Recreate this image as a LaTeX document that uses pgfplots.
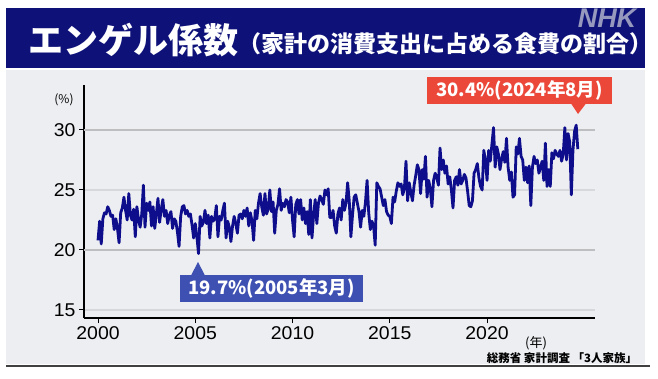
\documentclass[border=0pt]{standalone}
\usepackage{pgfplots}
\usepackage{pgfplotstable}
\pgfplotsset{compat=1.18}
\usepackage{fontspec}
\setmainfont{Liberation Sans}
\newfontfamily\jp{Noto Sans CJK JP}
\newfontfamily\numf[FakeStretch=1.05]{Liberation Sans}
\definecolor{banner}{RGB}{14,18,120}
\definecolor{panel}{RGB}{237,238,242}
\definecolor{linec}{RGB}{14,14,140}
\definecolor{redbox}{RGB}{235,72,58}
\definecolor{bluebox}{RGB}{62,80,178}
\definecolor{gridd}{RGB}{190,190,192}
\definecolor{gridl}{RGB}{215,216,219}
\definecolor{logoc}{RGB}{150,152,190}
\pgfplotstableread{
v
20.8
22.4
20.5
22.6
23.1
23.0
23.6
23.3
22.8
22.9
21.7
22.6
21.8
20.6
23.1
23.5
24.4
23.3
22.5
24.7
22.9
22.5
23.4
21.1
23.6
22.5
21.9
23.0
25.4
21.9
23.9
23.3
24.0
22.0
23.6
21.8
23.0
24.3
22.3
23.4
24.2
22.8
23.3
22.2
22.9
23.2
21.8
22.6
22.4
21.5
20.3
22.8
23.6
23.7
23.0
23.3
22.8
23.0
22.1
21.0
22.2
21.1
19.7
22.8
22.0
22.3
23.3
22.2
22.9
21.0
22.8
22.4
22.6
23.7
21.1
22.8
22.5
23.3
23.9
21.0
22.4
21.9
20.7
22.0
22.8
22.2
21.4
22.9
23.0
22.6
23.3
22.8
23.5
22.0
23.1
22.4
20.8
23.3
22.6
23.9
24.7
23.6
22.9
24.7
23.0
23.4
25.0
23.2
24.0
21.4
23.3
23.8
25.1
23.3
23.9
23.6
24.2
24.0
23.1
24.4
22.5
21.1
23.8
24.2
23.0
24.2
22.5
23.5
22.2
23.2
21.3
24.2
21.0
22.9
24.2
22.2
23.9
24.5
24.2
23.8
25.0
24.6
25.1
22.7
22.7
23.3
22.0
21.4
23.0
23.5
22.5
24.2
23.3
23.9
25.6
24.1
21.1
22.9
24.4
24.6
23.9
23.2
21.9
23.3
22.8
24.0
25.8
23.1
21.7
22.4
22.0
20.4
25.6
25.3
25.1
24.4
23.7
24.2
23.2
22.9
22.8
22.2
24.4
24.0
24.9
25.6
25.3
25.5
24.6
25.1
27.4
24.1
25.6
24.8
24.1
25.4
26.2
27.1
26.7
24.7
26.7
25.9
27.8
24.4
25.8
25.1
23.6
25.8
26.4
26.0
25.4
28.5
26.7
27.5
26.4
27.0
25.5
26.1
25.0
23.5
25.8
26.1
25.4
26.7
25.5
25.8
26.3
26.0
24.9
23.7
23.6
24.1
26.4
26.7
27.2
26.0
25.3
25.0
28.3
27.5
25.8
28.3
27.4
28.8
30.2
26.9
28.6
28.0
26.7
27.6
28.2
27.3
29.3
26.9
25.8
26.5
24.4
24.6
28.6
28.0
29.3
27.8
27.5
25.8
26.9
25.6
27.0
23.7
26.9
27.8
27.2
27.5
26.4
26.9
27.4
25.8
28.9
25.3
26.7
25.3
28.1
27.6
28.3
28.0
27.8
28.3
27.4
28.0
30.2
27.5
29.7
29.0
24.6
28.3
29.9
30.4
28.4
}\engel
\begin{document}
\begin{tikzpicture}
\useasboundingbox (0,0) rectangle (658bp,379bp);
\fill[white] (0,0) rectangle (658bp,379bp);
\fill[banner] (6bp,311bp) rectangle (645bp,371bp);
\fill[panel] (6bp,15bp) rectangle (645bp,309bp);
\draw[black!75, line width=1.5bp] (6bp,13bp) -- (650bp,13bp);
\node[anchor=west, text=white, font=\jp\bfseries\fontsize{35bp}{40bp}\selectfont, inner sep=0] at (28bp,339bp) {エンゲル係数};
\node[anchor=west, text=white, font=\jp\bfseries\fontsize{23bp}{27bp}\selectfont, inner sep=0] at (238bp,335bp) {（家計の消費支出に占める食費の割合）};
\node[text=logoc, font=\bfseries\itshape\fontsize{27bp}{29bp}\selectfont, inner sep=0] at (607bp,361bp) {NHK};
\begin{axis}[
  at={(84bp,61bp)}, anchor=south west, scale only axis,
  width=511bp, height=233bp,
  xmin=1999.28, xmax=2025.55, ymin=14.33, ymax=33.75,
  axis x line=bottom, axis y line=left,
  axis line style={-, line width=1.2bp, black},
  xtick={2000,2005,2010,2015,2020},
  ytick={15,25},
  extra y ticks={20,30},
  ymajorgrids,
  major grid style={gridl, line width=1.8bp},
  extra y tick style={major grid style={gridd, line width=2.8bp}},
  tick align=outside,
  major tick length=5bp,
  tick style={black, line width=1bp},
  /pgf/number format/1000 sep={},
  /pgf/number format/assume math mode=true,
  tick label style={font=\numf\fontsize{18.5bp}{20bp}\selectfont},
]
\addplot[draw=linec, line width=2.8bp, line join=round, no marks]
  table[x expr=2000+\coordindex/12, y=v] {\engel};
\end{axis}
\node[font=\jp\fontsize{12bp}{14bp}\selectfont, inner sep=0] at (64bp,279bp) {(\%)};
\node[font=\jp\fontsize{13bp}{15bp}\selectfont, inner sep=0] at (536bp,36bp) {(年)};
\node[font=\jp\bfseries\fontsize{11.5bp}{13bp}\selectfont, inner sep=0] at (562bp,21bp) {総務省 家計調査 「3人家族」};
\fill[redbox] (427bp,275bp) rectangle (612bp,302bp);
\fill[redbox] (571bp,275.5bp) -- (586bp,275.5bp) -- (578bp,265bp) -- cycle;
\node[text=white, font=\jp\bfseries\fontsize{18.5bp}{20bp}\selectfont, inner sep=0] at (519.5bp,288.5bp) {30.4\%(2024年8月)};
\fill[bluebox] (180bp,77bp) rectangle (363bp,104bp);
\fill[bluebox] (191bp,103.5bp) -- (205bp,103.5bp) -- (198bp,117bp) -- cycle;
\node[text=white, font=\jp\bfseries\fontsize{18.5bp}{20bp}\selectfont, inner sep=0] at (271.5bp,90.5bp) {19.7\%(2005年3月)};
\end{tikzpicture}
\end{document}
